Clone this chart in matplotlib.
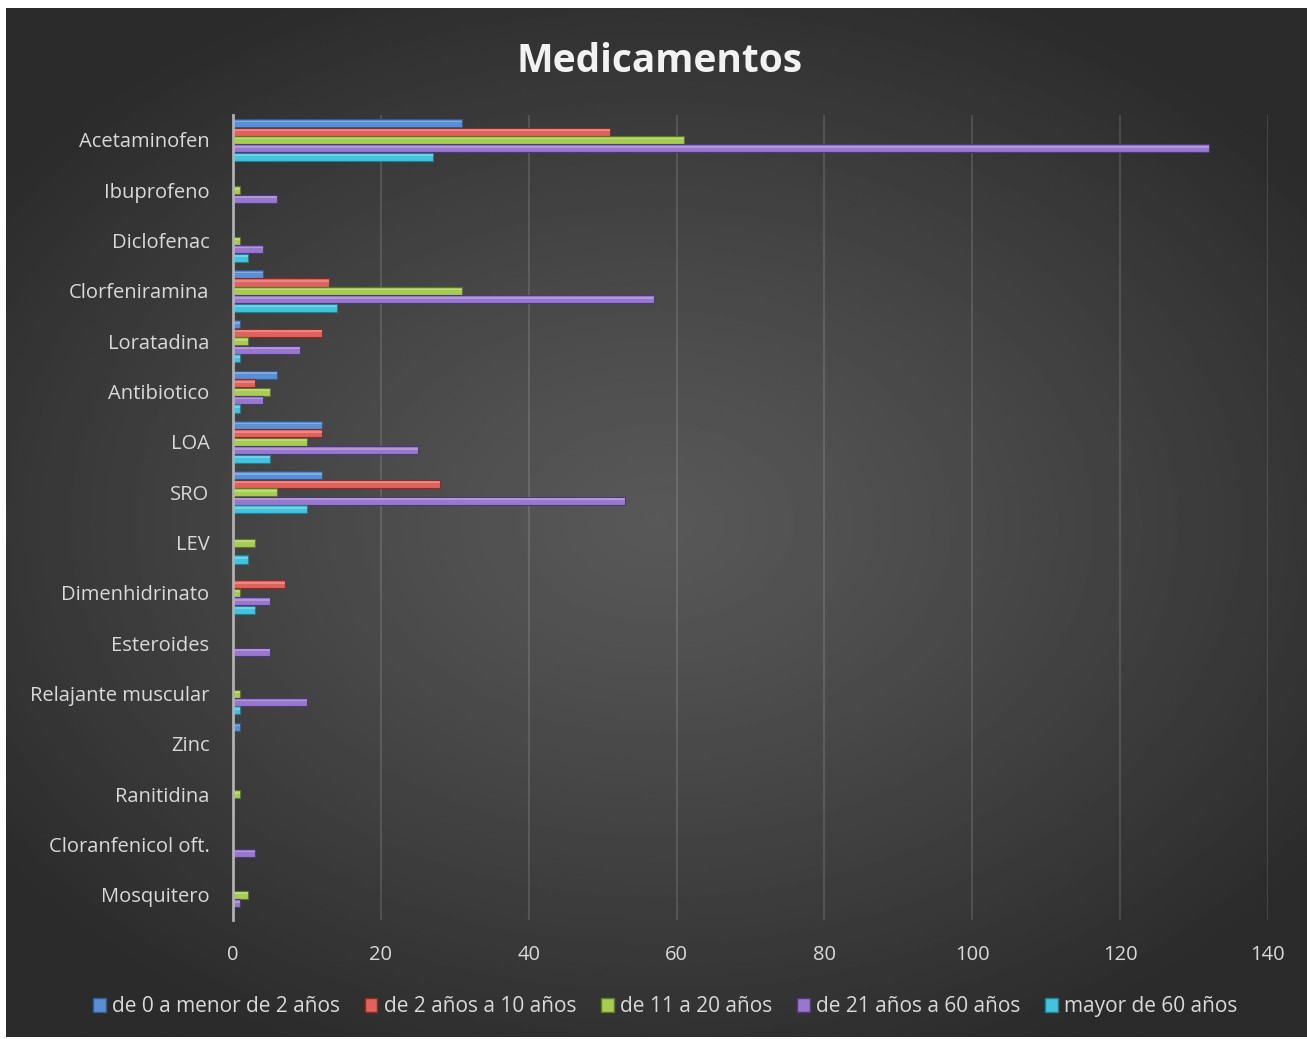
import numpy as np
import matplotlib.pyplot as plt

# Data
categorias = ['Acetaminofen', 'Ibuprofeno', 'Diclofenac', 'Clorfeniramina', 'Loratadina',
              'Antibiotico', 'LOA', 'SRO', 'LEV', 'Dimenhidrinato', 'Esteroides',
              'Relajante muscular', 'Zinc', 'Ranitidina', 'Cloranfenicol oft.', 'Mosquitero']

edad_0_2 = [31, 0, 0, 4, 1, 6, 12, 12, 0, 0, 0, 0, 1, 0, 0, 0]
edad_2_10 = [51, 0, 0, 13, 12, 3, 12, 28, 0, 7, 0, 0, 0, 0, 0, 0]
edad_11_20 = [61, 1, 1, 31, 2, 5, 10, 6, 3, 1, 0, 1, 0, 1, 0, 2]
edad_21_60 = [132, 6, 4, 57, 9, 4, 25, 53, 0, 5, 5, 10, 0, 0, 3, 1]
mayor_60 = [27, 0, 2, 14, 1, 1, 5, 10, 2, 3, 0, 1, 0, 0, 0, 0]

series = [
    ('de 0 a menor de 2 años', edad_0_2, '#5b8fd4', '#2f5a94'),
    ('de 2 años a 10 años', edad_2_10, '#e0625c', '#8e2a26'),
    ('de 11 a 20 años', edad_11_20, '#a8cc52', '#5c7a22'),
    ('de 21 años a 60 años', edad_21_60, '#9878cc', '#4f3780'),
    ('mayor de 60 años', mayor_60, '#45c3dd', '#1f7f93'),
]

plt.rcParams['font.family'] = ['Open Sans', 'DejaVu Sans']

fig = plt.figure(figsize=(13.07, 10.39), dpi=100)
fig.patch.set_facecolor('white')

# dark radial gradient background
bg = fig.add_axes([0.0046, 0.002, 0.9954, 0.990], zorder=-5)
gx, gy = np.meshgrid(np.linspace(-1, 1, 400), np.linspace(-1, 1, 400))
r = np.sqrt((gx * 1.0) ** 2 + (gy * 1.1) ** 2)
bg.imshow(0.345 - 0.175 * np.clip(r / 1.25, 0, 1) ** 1.2, cmap='gray', vmin=0, vmax=1,
          aspect='auto', extent=[0, 1, 0, 1], interpolation='bilinear')
bg.axis('off')

ax = fig.add_axes([0.1783, 0.1145, 0.7918, 0.775])
ax.set_facecolor('none')

y = np.arange(len(categorias))
h = 0.168
for i, (nombre, vals, color, edge) in enumerate(series):
    pos = y - 2 * h + i * h
    ax.barh(pos, vals, height=h * 0.95, color=color, edgecolor=edge, linewidth=0.8,
            label=nombre, zorder=3)
    # bevel highlight
    ax.barh(pos - h * 0.18, vals, height=h * 0.22, color='white', alpha=0.25,
            linewidth=0, zorder=4)

ax.set_xlim(0, 140)
ax.set_xticks(np.arange(0, 141, 20))
ax.set_ylim(len(categorias) - 0.5, -0.5)
ax.set_yticks(y)
ax.set_yticklabels(categorias)
ax.tick_params(axis='both', length=0, colors='#d9d9d9', labelsize=14.5)
ax.tick_params(axis='y', pad=17)
ax.tick_params(axis='x', pad=18)
ax.grid(axis='x', color='white', alpha=0.13, linewidth=1.5, zorder=0)
for s in ['top', 'right', 'bottom']:
    ax.spines[s].set_visible(False)
ax.spines['left'].set_color('#b0b0b0')
ax.spines['left'].set_linewidth(2)
ax.spines['left'].set_zorder(5)

fig.text(0.505, 0.941, 'Medicamentos', ha='center', va='center', fontsize=28,
         fontweight='bold', color='#f2f2f2')

handles = [plt.Rectangle((0, 0), 1, 1, facecolor=c, edgecolor=e) for _, _, c, e in series]
leg = fig.legend(handles, [s[0] for s in series], loc='center', bbox_to_anchor=(0.509, 0.031),
                 ncol=5, frameon=False, fontsize=15, handlelength=0.6, handleheight=0.6,
                 handletextpad=0.3, columnspacing=1.2, labelcolor='#d9d9d9')

fig.savefig('out.png', dpi=100, facecolor=fig.get_facecolor())
